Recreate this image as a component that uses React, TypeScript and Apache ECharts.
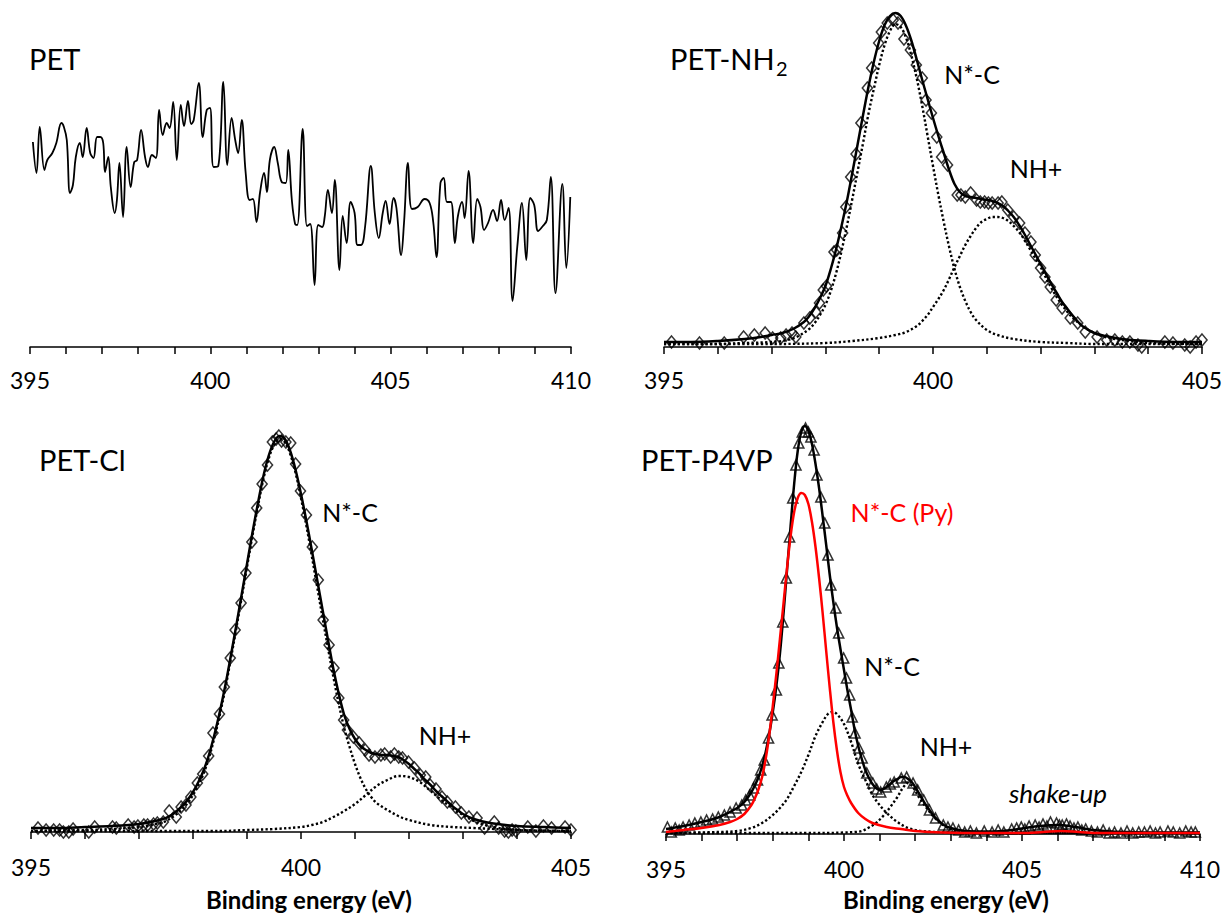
import React, { useEffect, useRef } from "react";
import * as echarts from "echarts";

const FONT = "Lato, 'Open Sans', 'Noto Sans', sans-serif";

// ---------- Axis ranges / texts ----------
const axisRangePET: [number, number] = [395, 410];
const axisRangeNH2: [number, number] = [395, 405];
const axisRangeCl: [number, number] = [395, 405];
const axisRangeP4VP: [number, number] = [395, 410];
const xTitle = "Binding energy (eV)";
const panelTitles = ["PET", "PET-NH", "PET-Cl", "PET-P4VP"];
const peakLabels = ["N*-C", "NH+", "N*-C (Py)", "shake-up"];

// ---------- PET (raw spectrum, noise only) [eV, intensity a.u.] ----------
const petSpectrum: [number, number][] = [
  [395.08, 205], [395.18, 174], [395.27, 220], [395.40, 177], [395.48, 187], [395.62, 194], [395.73, 204], [395.87, 224],
  [395.94, 220], [396.02, 207], [396.11, 154], [396.19, 162], [396.27, 190], [396.38, 204], [396.46, 190], [396.57, 219],
  [396.67, 194], [396.76, 189], [396.86, 210], [396.95, 210], [397.03, 204], [397.08, 175], [397.17, 190], [397.24, 160],
  [397.35, 134], [397.41, 147], [397.48, 184], [397.58, 130], [397.68, 200], [397.79, 160], [397.89, 185], [397.97, 187],
  [398.08, 217], [398.19, 190], [398.27, 180], [398.38, 192], [398.49, 189], [398.58, 237], [398.68, 212], [398.79, 224],
  [398.87, 219], [398.97, 245], [399.07, 187], [399.18, 242], [399.27, 221], [399.38, 246], [399.47, 223], [399.54, 227],
  [399.68, 264], [399.79, 210], [399.90, 237], [399.99, 239], [400.09, 180], [400.22, 181], [400.36, 265], [400.47, 182],
  [400.59, 229], [400.69, 207], [400.77, 194], [400.87, 227], [400.98, 174], [401.09, 147], [401.18, 148], [401.28, 125],
  [401.38, 155], [401.49, 174], [401.57, 155], [401.65, 187], [401.77, 200], [401.87, 184], [401.98, 165], [402.09, 164],
  [402.16, 197], [402.26, 147], [402.35, 123], [402.41, 122], [402.56, 218], [402.68, 121], [402.77, 123], [402.89, 62],
  [402.99, 122], [403.10, 120], [403.17, 130], [403.26, 157], [403.37, 134], [403.45, 167], [403.58, 77], [403.67, 131],
  [403.78, 104], [403.89, 145], [404.00, 134], [404.08, 102], [404.18, 102], [404.29, 120], [404.45, 181], [404.56, 134],
  [404.67, 109], [404.78, 134], [404.86, 146], [404.97, 123], [405.08, 149], [405.16, 139], [405.29, 92], [405.37, 124],
  [405.48, 184], [405.59, 138], [405.75, 140], [405.94, 148], [406.08, 144], [406.18, 125], [406.27, 90], [406.38, 164],
  [406.47, 169], [406.56, 145], [406.67, 145], [406.78, 104], [406.86, 130], [406.98, 145], [407.05, 129], [407.16, 176],
  [407.29, 104], [407.40, 148], [407.49, 140], [407.59, 117], [407.70, 124], [407.84, 137], [407.95, 126], [408.06, 147],
  [408.16, 127], [408.27, 139], [408.38, 46], [408.51, 100], [408.64, 144], [408.76, 87], [408.87, 149], [408.98, 142],
  [409.09, 116], [409.22, 121], [409.33, 127], [409.44, 170], [409.57, 54], [409.76, 163], [409.87, 79], [409.98, 150],
];

// ---------- PET-NH2 ----------
const nh2Measured: [number, number][] = [
  [395.14, 5], [395.66, 4], [396.12, 4], [396.48, 10], [396.68, 12], [396.88, 14], [397.02, 9], [397.17, 9],
  [397.27, 12], [397.38, 14], [397.45, 10], [397.60, 24], [397.71, 29], [397.82, 35], [397.89, 44], [397.96, 57],
  [398.02, 61], [398.16, 95], [398.21, 97], [398.32, 114], [398.38, 140], [398.47, 170], [398.57, 193], [398.66, 224],
  [398.78, 259], [398.86, 279], [398.99, 304], [399.04, 315], [399.15, 324], [399.26, 327], [399.35, 324], [399.46, 308],
  [399.58, 297], [399.69, 282], [399.80, 269], [399.87, 247], [399.97, 234], [400.07, 210], [400.16, 190], [400.27, 182],
  [400.45, 152], [400.52, 152], [400.60, 150], [400.70, 154], [400.81, 147], [400.88, 145], [400.96, 145], [401.03, 144],
  [401.10, 144], [401.21, 144], [401.28, 145], [401.39, 137], [401.50, 130], [401.61, 124], [401.71, 114], [401.82, 105],
  [401.90, 92], [402.00, 79], [402.08, 70], [402.18, 60], [402.29, 47], [402.40, 39], [402.55, 29], [402.69, 24],
  [402.83, 15], [403.05, 10], [403.23, 7], [403.38, 7], [403.52, 5], [403.66, 5], [403.81, 2], [403.88, 0],
  [404.31, 5], [404.46, 4], [404.68, 2], [404.78, 0], [404.89, 5], [405.00, 7],
];
const nh2Envelope: [number, number][] = [
  [395.0, 5], [395.5, 5], [396.0, 6], [396.5, 8], [396.8, 10], [397.0, 12], [397.2, 14], [397.4, 18], [397.6, 25],
  [397.7, 31], [397.8, 39], [397.9, 49], [398.0, 61], [398.1, 78], [398.2, 98], [398.3, 121], [398.4, 146], [398.5, 174],
  [398.6, 203], [398.7, 232], [398.8, 260], [398.9, 285], [399.0, 306], [399.1, 322], [399.2, 331], [399.3, 334],
  [399.4, 331], [399.5, 321], [399.6, 306], [399.7, 287], [399.8, 267], [399.9, 248], [400.0, 229], [400.1, 211],
  [400.2, 194], [400.3, 177], [400.4, 163], [400.5, 155], [400.6, 151], [400.7, 150], [400.8, 149], [400.9, 148],
  [401.0, 147], [401.1, 146], [401.2, 144], [401.3, 141], [401.4, 136], [401.5, 130], [401.6, 122], [401.7, 113],
  [401.8, 103], [401.9, 93], [402.0, 83], [402.1, 73], [402.2, 63], [402.3, 54], [402.4, 45], [402.5, 38], [402.6, 31],
  [402.7, 25], [402.8, 20], [403.0, 14], [403.2, 11], [403.5, 8], [404.0, 6], [404.5, 5], [405.0, 5],
];
const nh2PeakNC: [number, number][] = [
  [395.0, 3], [396.0, 3], [396.5, 4], [397.0, 5], [397.3, 7], [397.5, 11], [397.7, 18], [397.8, 24], [397.9, 32],
  [398.0, 42], [398.1, 56], [398.2, 74], [398.3, 96], [398.4, 121], [398.5, 148], [398.6, 176], [398.7, 204],
  [398.8, 233], [398.9, 258], [399.0, 282], [399.1, 302], [399.2, 316], [399.3, 323], [399.4, 320], [399.5, 309],
  [399.6, 291], [399.7, 268], [399.8, 241], [399.9, 211], [400.0, 181], [400.1, 152], [400.2, 125], [400.3, 100],
  [400.4, 78], [400.5, 60], [400.6, 46], [400.7, 35], [400.8, 27], [401.0, 17], [401.2, 12], [401.5, 8], [402.0, 5],
  [402.5, 4], [403.0, 3], [405.0, 3],
];
const nh2PeakNH: [number, number][] = [
  [395.0, 3], [397.0, 3], [398.0, 4], [398.5, 6], [399.0, 9], [399.3, 12], [399.5, 15], [399.7, 21], [399.8, 26],
  [399.9, 32], [400.0, 40], [400.1, 48], [400.2, 57], [400.3, 68], [400.4, 80], [400.5, 91], [400.6, 102], [400.7, 111],
  [400.8, 119], [400.9, 125], [401.0, 128], [401.1, 130], [401.2, 130], [401.3, 129], [401.4, 126], [401.5, 121],
  [401.6, 115], [401.7, 107], [401.8, 98], [401.9, 89], [402.0, 80], [402.1, 69], [402.2, 59], [402.3, 50], [402.4, 42],
  [402.5, 35], [402.6, 29], [402.8, 20], [403.0, 14], [403.2, 10], [403.5, 7], [404.0, 4], [405.0, 3],
];

// ---------- PET-Cl ----------
const clMeasured: [number, number][] = [
  [395.13, 4], [395.28, 2], [395.42, 2], [395.53, 2], [395.60, 0], [395.70, 0], [395.78, 3], [396.07, 0],
  [396.18, 5], [396.51, 5], [396.58, 4], [396.80, 7], [396.91, 5], [396.98, 6], [397.09, 7], [397.16, 7],
  [397.27, 8], [397.34, 9], [397.45, 10], [397.56, 21], [397.69, 15], [397.78, 25], [397.87, 27], [397.96, 35],
  [398.08, 49], [398.18, 58], [398.29, 76], [398.37, 99], [398.49, 118], [398.58, 145], [398.69, 174], [398.78, 202],
  [398.89, 229], [398.98, 259], [399.09, 290], [399.18, 324], [399.28, 348], [399.38, 367], [399.47, 390], [399.54, 393],
  [399.59, 396], [399.64, 391], [399.72, 390], [399.81, 389], [399.90, 368], [399.99, 341], [400.10, 317], [400.21, 285],
  [400.32, 252], [400.41, 212], [400.52, 187], [400.61, 164], [400.70, 134], [400.79, 112], [400.86, 102], [400.97, 95],
  [401.08, 89], [401.19, 82], [401.26, 77], [401.37, 75], [401.48, 77], [401.55, 78], [401.66, 75], [401.73, 78],
  [401.81, 75], [401.88, 74], [401.99, 70], [402.10, 64], [402.21, 57], [402.31, 55], [402.39, 47], [402.50, 43],
  [402.61, 35], [402.71, 30], [402.86, 25], [402.97, 19], [403.11, 15], [403.26, 14], [403.40, 4], [403.58, 10],
  [403.66, 4], [403.77, 1], [403.84, 0], [403.91, 2], [403.98, 1], [404.20, 5], [404.35, 1], [404.49, 6],
  [404.64, 4], [404.89, 5], [405.00, 2],
];
const clEnvelope: [number, number][] = [
  [395.0, 4], [395.5, 4], [396.0, 5], [396.5, 6], [397.0, 8], [397.3, 11], [397.5, 14], [397.6, 17], [397.7, 21],
  [397.8, 26], [397.9, 32], [398.0, 40], [398.1, 50], [398.2, 62], [398.3, 78], [398.4, 98], [398.5, 121], [398.6, 147],
  [398.7, 176], [398.8, 206], [398.9, 237], [399.0, 268], [399.1, 299], [399.2, 328], [399.3, 355], [399.4, 376],
  [399.5, 390], [399.6, 396], [399.7, 393], [399.8, 381], [399.9, 362], [400.0, 338], [400.1, 311], [400.2, 282],
  [400.3, 252], [400.4, 222], [400.5, 192], [400.6, 163], [400.7, 138], [400.8, 117], [400.9, 103], [401.0, 93],
  [401.1, 86], [401.2, 82], [401.3, 79], [401.4, 78], [401.5, 77], [401.6, 77], [401.7, 76], [401.8, 75], [401.9, 72],
  [402.0, 68], [402.1, 63], [402.2, 58], [402.3, 52], [402.4, 47], [402.5, 41], [402.6, 36], [402.7, 31], [402.8, 26],
  [402.9, 22], [403.0, 18], [403.2, 13], [403.5, 9], [404.0, 6], [404.5, 5], [405.0, 4],
];
const clPeakNC: [number, number][] = [
  [395.0, 1], [396.0, 2], [396.5, 3], [397.0, 5], [397.3, 8], [397.5, 11], [397.7, 18], [397.8, 23], [397.9, 29],
  [398.0, 37], [398.1, 47], [398.2, 59], [398.3, 75], [398.4, 95], [398.5, 118], [398.6, 144], [398.7, 173],
  [398.8, 203], [398.9, 234], [399.0, 265], [399.1, 296], [399.2, 325], [399.3, 352], [399.4, 373], [399.5, 387],
  [399.6, 393], [399.7, 390], [399.8, 378], [399.9, 359], [400.0, 334], [400.1, 306], [400.2, 276], [400.3, 245],
  [400.4, 214], [400.5, 184], [400.6, 155], [400.7, 128], [400.8, 104], [400.9, 85], [401.0, 68], [401.1, 54],
  [401.2, 43], [401.3, 35], [401.4, 29], [401.6, 22], [401.8, 16], [402.0, 12], [402.4, 7], [402.8, 5], [403.2, 4],
  [404.0, 2], [405.0, 1],
];
const clPeakNH: [number, number][] = [
  [395.0, 1], [398.5, 1], [399.0, 2], [399.5, 3], [400.0, 5], [400.2, 7], [400.4, 10], [400.6, 15], [400.8, 21],
  [401.0, 28], [401.2, 37], [401.4, 46], [401.6, 52], [401.8, 56], [402.0, 55], [402.2, 50], [402.4, 41], [402.6, 32],
  [402.8, 24], [403.0, 17], [403.2, 11], [403.4, 7], [403.6, 4.5], [403.8, 3], [404.2, 1.5], [405.0, 1],
];

// ---------- PET-P4VP ----------
const p4vpMeasured: [number, number][] = [
  [395.04, 7], [395.15, 2], [395.26, 6], [395.37, 4], [395.48, 7], [395.65, 9], [395.81, 11], [395.98, 12],
  [396.14, 14], [396.31, 15], [396.47, 17], [396.64, 19], [396.80, 22], [396.97, 26], [397.13, 29], [397.24, 34],
  [397.35, 39], [397.46, 46], [397.57, 54], [397.66, 64], [397.76, 74], [397.88, 96], [397.98, 119], [398.10, 144],
  [398.17, 171], [398.28, 212], [398.38, 256], [398.47, 297], [398.56, 336], [398.65, 369], [398.73, 391], [398.83, 402],
  [398.92, 406], [399.00, 402], [399.07, 397], [399.16, 384], [399.24, 359], [399.35, 337], [399.46, 311], [399.55, 279],
  [399.63, 249], [399.77, 226], [399.85, 201], [399.99, 176], [400.07, 156], [400.16, 139], [400.23, 117], [400.31, 101],
  [400.42, 86], [400.51, 76], [400.64, 61], [400.81, 51], [400.92, 45], [401.03, 42], [401.19, 47], [401.30, 50],
  [401.41, 52], [401.61, 56], [401.76, 57], [401.94, 51], [402.07, 44], [402.24, 34], [402.40, 24], [402.57, 16],
  [402.79, 9], [402.92, 7], [403.06, 6], [403.22, 4], [403.39, 2], [403.55, 3], [403.72, 1], [403.94, 3],
  [404.16, 2], [404.33, 4], [404.49, 2], [404.71, 5], [404.85, 6], [404.98, 7], [405.08, 5], [405.20, 8],
  [405.37, 9], [405.48, 7], [405.59, 10], [405.70, 8], [405.80, 12], [405.97, 11], [406.05, 9], [406.13, 9],
  [406.25, 10], [406.35, 8], [406.46, 6], [406.57, 7], [406.68, 4], [406.79, 5], [406.95, 3], [407.12, 2],
  [407.28, 4], [407.45, 1], [407.60, 2], [407.78, 1], [407.95, 3], [408.11, 1], [408.28, 2], [408.44, 2],
  [408.60, 3], [408.75, 1], [408.88, 2], [409.10, 3], [409.25, 2], [409.43, 1], [409.60, 3], [409.75, 2],
  [409.87, 2],
];
const p4vpEnvelope: [number, number][] = [
  [395.0, 5], [395.5, 8], [396.0, 12], [396.5, 17], [397.0, 26], [397.2, 32], [397.4, 42], [397.5, 49], [397.6, 57],
  [397.7, 68], [397.8, 82], [397.9, 100], [398.0, 122], [398.1, 148], [398.2, 180], [398.3, 220], [398.4, 264],
  [398.5, 308], [398.6, 350], [398.7, 383], [398.8, 402], [398.9, 408], [399.0, 403], [399.1, 390], [399.2, 370],
  [399.3, 346], [399.4, 318], [399.5, 289], [399.6, 259], [399.7, 232], [399.8, 207], [399.9, 185], [400.0, 164],
  [400.1, 143], [400.2, 124], [400.3, 104], [400.4, 88], [400.5, 75], [400.6, 64], [400.7, 56], [400.8, 50],
  [400.9, 46], [401.0, 44], [401.1, 45], [401.2, 47], [401.3, 50], [401.4, 53], [401.5, 55], [401.6, 57], [401.7, 57],
  [401.8, 55], [401.9, 52], [402.0, 47], [402.1, 41], [402.2, 35], [402.3, 29], [402.4, 24], [402.5, 19], [402.6, 15],
  [402.8, 9], [403.0, 6], [403.3, 3.5], [403.7, 2.5], [404.2, 2.5], [404.6, 3.5], [405.0, 5.5], [405.5, 8],
  [406.0, 9], [406.5, 7], [407.0, 4], [407.5, 2.5], [408.0, 2], [409.0, 1.5], [410.0, 1.5],
];
const p4vpPeakPy: [number, number][] = [
  [395.0, 2], [395.5, 4], [396.0, 6], [396.5, 9], [396.8, 12], [397.0, 15], [397.2, 20], [397.4, 29], [397.5, 36],
  [397.6, 45], [397.7, 57], [397.8, 75], [397.9, 99], [398.0, 128], [398.1, 160], [398.2, 195], [398.3, 230],
  [398.4, 266], [398.5, 298], [398.6, 322], [398.7, 336], [398.8, 341], [398.9, 339], [399.0, 330], [399.1, 312],
  [399.2, 287], [399.3, 256], [399.4, 221], [399.5, 183], [399.6, 146], [399.7, 112], [399.8, 84], [399.9, 62],
  [400.0, 47], [400.1, 38], [400.2, 31], [400.4, 21], [400.6, 15], [400.8, 11], [401.2, 7], [401.6, 5], [402.0, 3],
  [402.8, 1.5], [404.0, 1], [405.0, 1], [405.6, 2], [406.1, 3], [406.6, 2], [407.2, 1], [410.0, 1],
];
const p4vpPeakNC: [number, number][] = [
  [395.0, 1], [396.5, 2], [397.0, 3], [397.4, 6], [397.7, 11], [398.0, 19], [398.2, 26], [398.4, 35], [398.6, 48],
  [398.8, 62], [399.0, 79], [399.2, 98], [399.4, 112], [399.55, 120], [399.68, 122], [399.8, 120], [400.0, 110],
  [400.2, 92], [400.4, 70], [400.6, 54], [400.8, 39], [401.0, 29], [401.2, 21], [401.5, 12], [401.8, 6], [402.2, 3],
  [403.0, 1.5], [404.0, 1], [410.0, 1],
];
const p4vpPeakNH: [number, number][] = [
  [395.0, 1], [399.5, 1], [400.0, 1.5], [400.3, 2], [400.5, 3], [400.7, 6.5], [400.9, 11], [401.1, 18], [401.3, 27],
  [401.5, 37], [401.65, 46], [401.8, 51], [401.95, 46], [402.1, 37], [402.3, 27], [402.5, 18], [402.7, 11],
  [402.9, 6.5], [403.1, 3], [403.3, 2], [403.6, 1.5], [404.0, 1], [410.0, 1],
];

const BLACK = "#000000";
const RED = "#FF0000";

function buildOption() {
  const grids = [
    { left: 30, top: 20, width: 541, height: 327 },
    { left: 664, top: 0, width: 538, height: 347 },
    { left: 31, top: 420, width: 540, height: 412 },
    { left: 666, top: 420, width: 534, height: 414 },
  ];
  const ranges = [axisRangePET, axisRangeNH2, axisRangeCl, axisRangeP4VP];
  const yMax = [327, 347, 412, 414];
  const margins = [21, 21, 23, 23];

  const xAxis = ranges.map((r, i) => ({
    type: "value",
    gridIndex: i,
    min: r[0],
    max: r[1],
    interval: 1,
    axisLine: { show: true, onZero: false, lineStyle: { color: BLACK, width: 1.5 } },
    axisTick: { show: true, inside: false, length: 7, lineStyle: { color: BLACK, width: 1.5 } },
    axisLabel: {
      formatter: (v: number) => (Math.round(v) % 5 === 0 ? String(Math.round(v)) : ""),
      fontSize: 23,
      fontFamily: FONT,
      color: BLACK,
      margin: margins[i],
      showMinLabel: true,
      showMaxLabel: true,
    },
    splitLine: { show: false },
  }));
  const yAxis = yMax.map((m, i) => ({ type: "value", gridIndex: i, min: 0, max: m, show: false }));

  const line = (gi: number, data: [number, number][], color: string, width: number, dotted = false, z = 3) => ({
    type: "line",
    xAxisIndex: gi,
    yAxisIndex: gi,
    data,
    symbol: "none",
    showSymbol: false,
    smooth: 0.35,
    z,
    lineStyle: { color, width, type: dotted ? [2.3, 2.3] : "solid", cap: "butt", join: "round" },
    emphasis: { disabled: true },
  });
  const markers = (gi: number, data: [number, number][], symbol: string, size: number | number[]) => ({
    type: "scatter",
    xAxisIndex: gi,
    yAxisIndex: gi,
    data,
    symbol,
    symbolSize: size,
    z: 2,
    itemStyle: { color: "rgba(255,255,255,0)", borderColor: BLACK, borderWidth: 1.6 },
    emphasis: { disabled: true },
  });

  const series = [
    { ...line(0, petSpectrum, BLACK, 1.8), smooth: 0.4 },
    markers(1, nh2Measured, "diamond", [10, 12]),
    line(1, nh2PeakNC, BLACK, 2.4, true),
    line(1, nh2PeakNH, BLACK, 2.4, true),
    line(1, nh2Envelope, BLACK, 2.5),
    markers(2, clMeasured, "diamond", [10, 12]),
    line(2, clPeakNC, BLACK, 2.4, true),
    line(2, clPeakNH, BLACK, 2.4, true),
    line(2, clEnvelope, BLACK, 2.5),
    markers(3, p4vpMeasured, "triangle", [10, 10]),
    line(3, p4vpPeakNC, BLACK, 2.4, true),
    line(3, p4vpPeakNH, BLACK, 2.4, true),
    line(3, p4vpPeakPy, RED, 2.5, false, 4),
    line(3, p4vpEnvelope, BLACK, 2.5),
  ];

  const txt = (
    text: string,
    x: number,
    y: number,
    size: number,
    opts: { color?: string; weight?: string; style?: string; align?: string } = {}
  ) => ({
    type: "text",
    x,
    y,
    silent: true,
    style: {
      text,
      fill: opts.color || BLACK,
      fontSize: size,
      fontFamily: FONT,
      fontWeight: opts.weight || "normal",
      fontStyle: opts.style || "normal",
      align: opts.align || "center",
      verticalAlign: "middle",
      textAlign: opts.align || "center",
      textVerticalAlign: "middle",
    },
  });

  const graphic = [
    txt(panelTitles[0], 29, 58, 29, { align: "left" }),
    txt(panelTitles[1], 670, 58, 29, { align: "left" }),
    txt("2", 776, 68, 20, { align: "left" }),
    txt(panelTitles[2], 39, 459, 29, { align: "left" }),
    txt(panelTitles[3], 641, 459, 29, { align: "left" }),
    txt(peakLabels[0], 972, 74, 25),
    txt(peakLabels[1], 1036, 168, 25),
    txt(peakLabels[0], 350, 512, 25),
    txt(peakLabels[1], 445, 735, 25),
    txt(peakLabels[2], 902, 512, 25, { color: RED }),
    txt(peakLabels[0], 892, 666, 25),
    txt(peakLabels[1], 946, 746, 25),
    txt(peakLabels[3], 1058, 793, 26, { style: "italic" }),
    txt(xTitle, 309, 899, 24, { weight: "bold" }),
    txt(xTitle, 946, 899, 24, { weight: "bold" }),
  ];

  return {
    animation: false,
    backgroundColor: "#ffffff",
    grid: grids,
    xAxis,
    yAxis,
    series,
    graphic,
  };
}

export default function App() {
  const ref = useRef<HTMLDivElement>(null);
  useEffect(() => {
    document.body.style.margin = "0";
    const chart = echarts.init(ref.current as HTMLDivElement, null, { renderer: "svg" });
    chart.setOption(buildOption() as any);
    return () => chart.dispose();
  }, []);
  return <div ref={ref} style={{ width: 1226, height: 913 }} />;
}
